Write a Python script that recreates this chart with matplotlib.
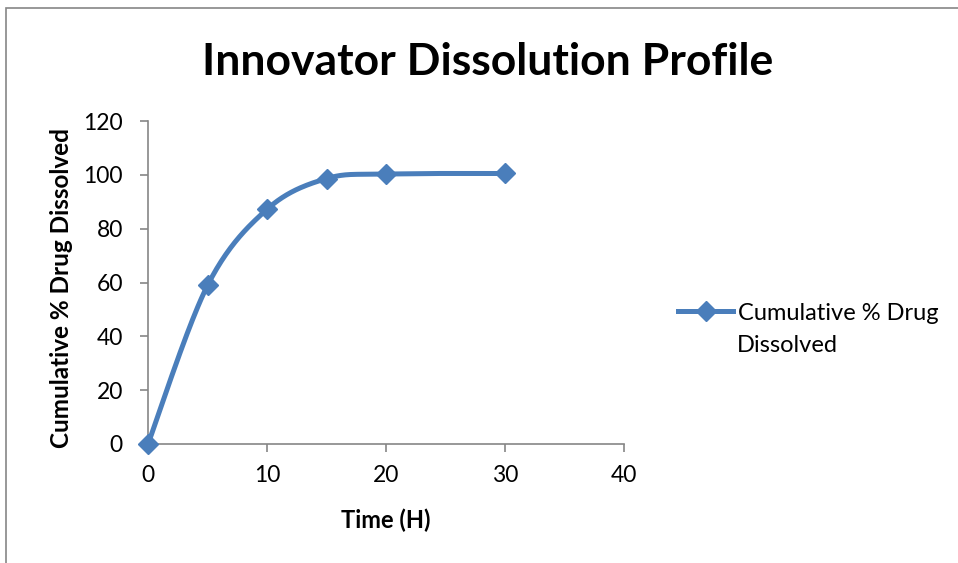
import matplotlib
matplotlib.use("Agg")
import matplotlib.pyplot as plt
from matplotlib.patches import Rectangle
import numpy as np

# данные
time_h = [0, 5, 10, 15, 20, 30]
dissolved = [0, 58.9, 87.2, 98.6, 100.3, 100.5]
x_ticks = [0, 10, 20, 30, 40]
y_ticks = [0, 20, 40, 60, 80, 100, 120]
series_name = ["Cumulative % Drug", "Dissolved"]

plt.rcParams['font.family'] = ['Lato', 'DejaVu Sans']
blue = '#4A7EBB'
grey = '#868686'


def smooth(xs, ys, n=40):
    # сглаживание как в Excel (Catmull-Rom через Безье)
    xs = np.asarray(xs, float)
    ys = np.asarray(ys, float)
    px = np.concatenate([[xs[0]], xs, [xs[-1]]])
    py = np.concatenate([[ys[0]], ys, [ys[-1]]])
    ox, oy = [], []
    t = np.linspace(0, 1, n)
    for i in range(1, len(px) - 2):
        p0 = np.array([px[i], py[i]])
        p3 = np.array([px[i + 1], py[i + 1]])
        c1 = p0 + (np.array([px[i + 1], py[i + 1]]) - np.array([px[i - 1], py[i - 1]])) / 6
        c2 = p3 - (np.array([px[i + 2], py[i + 2]]) - np.array([px[i], py[i]])) / 6
        b = ((1 - t) ** 3)[:, None] * p0 + (3 * (1 - t) ** 2 * t)[:, None] * c1 \
            + (3 * (1 - t) * t ** 2)[:, None] * c2 + (t ** 3)[:, None] * p3
        ox.extend(b[:, 0])
        oy.extend(b[:, 1])
    return ox, oy


fig = plt.figure(figsize=(9.58, 5.63), dpi=100)
fig.patches.append(Rectangle((6 / 958, -0.1), 1.1, 1.1 - 8 / 563, transform=fig.transFigure,
                             fill=False, edgecolor=grey, linewidth=1.2))
ax = fig.add_axes([148 / 958, 1 - 444 / 563, (624 - 148) / 958, (444 - 121) / 563])

sx, sy = smooth(time_h, dissolved)
ax.plot(sx, sy, color=blue, linewidth=3.6, solid_capstyle='round', clip_on=False)
ax.plot(time_h, dissolved, linestyle='none', marker='D', markersize=10,
        color=blue, markeredgecolor=blue, clip_on=False, zorder=3)
ax.plot([], [], color=blue, linewidth=3.6, marker='D', markersize=10,
        markeredgecolor=blue, label=series_name[0])

ax.set_xlim(0, 40)
ax.set_ylim(0, 120)
ax.set_xticks(x_ticks)
ax.set_yticks(y_ticks)
for s in ['top', 'right']:
    ax.spines[s].set_visible(False)
for s in ['left', 'bottom']:
    ax.spines[s].set_color(grey)
    ax.spines[s].set_linewidth(1.2)
ax.tick_params(direction='out', length=6, color=grey, width=1.2, labelsize=16.5)
ax.tick_params(axis='y', pad=12)
ax.tick_params(axis='x', pad=9)

ax.set_xlabel('Time (H)', fontsize=17, fontweight='bold', va='center')
ax.set_ylabel('Cumulative % Drug Dissolved', fontsize=17.5, fontweight='bold', va='center')
ax.xaxis.set_label_coords(0.5, (444 - 520) / 323)
ax.yaxis.set_label_coords((62 - 148) / 476, (444 - 288) / 323)
fig.text(488 / 958, 1 - 62 / 563, 'Innovator Dissolution Profile', fontsize=32,
         fontweight='bold', ha='center', va='center')

ax.legend(loc='center left', bbox_to_anchor=(1.094, (444 - 313) / 323), frameon=False,
          fontsize=17, handlelength=2.33, handletextpad=0.2, borderaxespad=0)
# вторая строка подписи легенды
fig.text(737 / 958, 1 - 346 / 563, series_name[1], fontsize=17, ha='left', va='center')

fig.savefig('out.png', dpi=100)
